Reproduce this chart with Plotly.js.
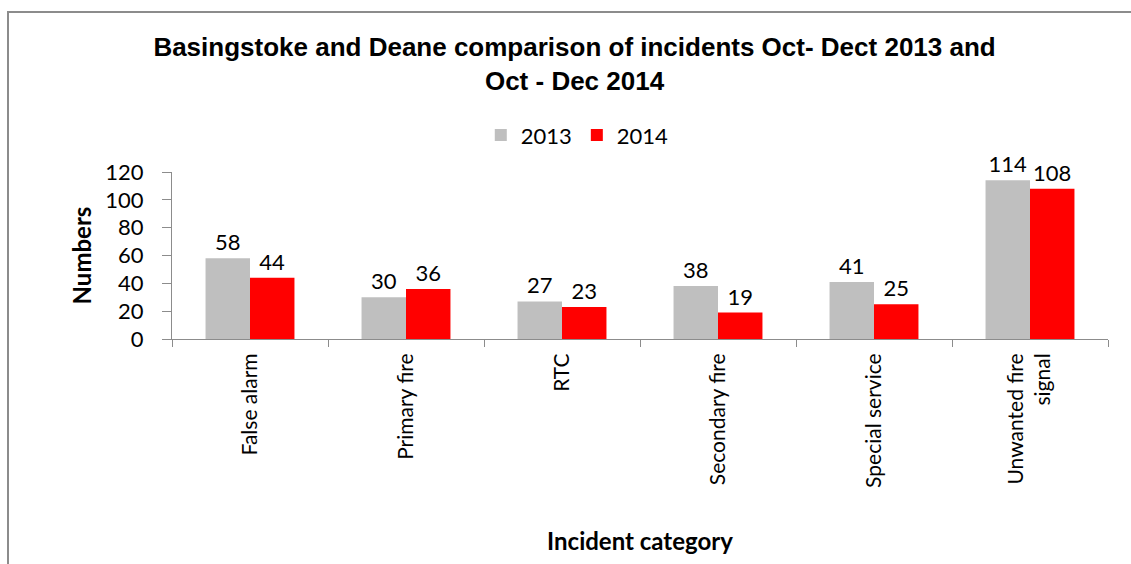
<!DOCTYPE html>
<html>
<head>
<meta charset="utf-8">
<script src="https://cdn.plot.ly/plotly-3.0.1.min.js"></script>
<style>
  body { margin: 0; background: #fff; overflow: hidden; }
  #frame { position: absolute; left: 7px; top: 11px; width: 1140px; height: 570px; border: 2px solid #8c8c8c; }
  #graph { position: absolute; left: 0; top: 0; width: 1131px; height: 564px; }
</style>
</head>
<body>
<div id="frame"></div>
<div id="graph"></div>
<script>
// categories and values
var categories = ['False alarm', 'Primary fire', 'RTC', 'Secondary fire', 'Special service', 'Unwanted fire<br>signal'];
var incidents2013 = [58, 30, 27, 38, 41, 114];
var incidents2014 = [44, 36, 23, 19, 25, 108];
var yTicks = [0, 20, 40, 60, 80, 100, 120];

var baseFamily = 'Lato, "Open Sans", sans-serif';
var labelFont = { family: baseFamily, size: 21, color: '#000' };
var valueFont = { family: baseFamily, size: 22, color: '#000' };
var axisTitleFont = { family: baseFamily, size: 24, color: '#000' };

var bar2013 = {
  x: categories,
  y: incidents2013,
  type: 'bar',
  name: '2013',
  marker: { color: '#bfbfbf' },
  text: incidents2013.map(String),
  textposition: 'outside',
  constraintext: 'none',
  textfont: valueFont,
  cliponaxis: false
};

var bar2014 = {
  x: categories,
  y: incidents2014,
  type: 'bar',
  name: '2014',
  marker: { color: '#ff0000' },
  text: incidents2014.map(String),
  textposition: 'outside',
  constraintext: 'none',
  textfont: valueFont,
  cliponaxis: false
};

var data = [bar2013, bar2014];

var layout = {
  width: 1131,
  height: 564,
  paper_bgcolor: 'rgba(0,0,0,0)',
  plot_bgcolor: 'rgba(0,0,0,0)',
  margin: { l: 172, r: 23, t: 172, b: 225, autoexpand: false },
  barmode: 'group',
  bargap: 0.43,
  bargroupgap: 0,
  title: {
    text: '<b>Basingstoke and Deane comparison of incidents Oct- Dect 2013 and<br>Oct - Dec 2014</b>',
    font: { family: '"Liberation Sans", Arial, sans-serif', size: 26, color: '#000' },
    x: 0.508,
    xref: 'container',
    y: 0.90,
    yanchor: 'middle'
  },
  legend: {
    orientation: 'h',
    x: 0.433,
    xanchor: 'center',
    y: 1.22,
    yanchor: 'middle',
    font: valueFont
  },
  xaxis: {
    type: 'category',
    tickangle: -90,
    tickfont: labelFont,
    tickson: 'boundaries',
    ticks: 'outside',
    ticklen: 7,
    tickcolor: '#8c8c8c',
    ticklabelstandoff: 5,
    showline: true,
    linecolor: '#8c8c8c',
    linewidth: 1,
    showgrid: false,
    automargin: false,
    title: {
      text: '<b>Incident category</b>',
      font: axisTitleFont,
      standoff: 46
    }
  },
  yaxis: {
    range: [0, 120],
    tickvals: yTicks,
    tickfont: valueFont,
    ticks: 'outside',
    ticklen: 9,
    tickcolor: '#8c8c8c',
    ticklabelstandoff: 14,
    showline: true,
    linecolor: '#8c8c8c',
    linewidth: 1,
    showgrid: false,
    zeroline: false,
    automargin: false,
    title: {
      text: '<b>Numbers</b>',
      font: axisTitleFont,
      standoff: 6
    }
  }
};

Plotly.newPlot('graph', data, layout, { displayModeBar: false });
</script>
</body>
</html>
